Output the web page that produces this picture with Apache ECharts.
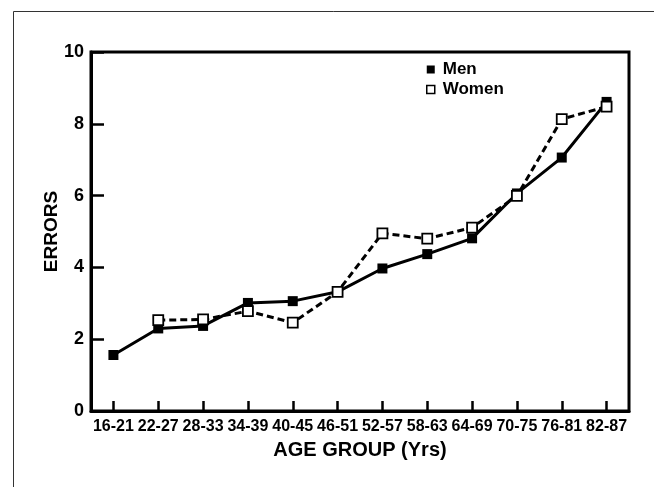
<!DOCTYPE html>
<html>
<head>
<meta charset="utf-8">
<script src="https://cdn.jsdelivr.net/npm/echarts@6/dist/echarts.min.js"></script>
<style>
html,body{margin:0;padding:0;background:#fff;}
#chart{width:654px;height:487px;}
</style>
</head>
<body>
<div id="chart"></div>
<script>
var categories = ['16-21','22-27','28-33','34-39','40-45','46-51','52-57','58-63','64-69','70-75','76-81','82-87'];
var menValues = [1.56, 2.30, 2.37, 3.01, 3.06, 3.32, 3.97, 4.37, 4.81, 6.06, 7.06, 8.61];
var womenValues = [null, 2.53, 2.55, 2.78, 2.46, 3.32, 4.95, 4.80, 5.11, 5.99, 8.13, 8.48];
var yTicks = [0, 2, 4, 6, 8, 10];

var FONT = '"Liberation Sans", Arial, Helvetica, sans-serif';
var NARROW = '"Liberation Sans Narrow", "Arial Narrow", "Liberation Sans", Arial, sans-serif';
var chart = echarts.init(document.getElementById('chart'), null, {renderer: 'canvas'});
chart.setOption({
  animation: false,
  backgroundColor: '#fff',
  textStyle: {fontFamily: FONT},
  graphic: [{
    type: 'polyline',
    shape: {points: [[13.5, 487], [13.5, 11.5], [654, 11.5]]},
    style: {stroke: '#333', lineWidth: 1, fill: null},
    silent: true
  }],
  grid: {
    left: 91, right: 25, top: 52, bottom: 76,
    show: true, borderColor: '#000', borderWidth: 3, backgroundColor: 'transparent'
  },
  legend: {
    orient: 'vertical',
    left: 421, top: 56,
    itemWidth: 8, itemHeight: 8, itemGap: 3,
    textStyle: {fontFamily: FONT, fontWeight: 'bold', fontSize: 17, color: '#000', padding: [0, 0, 0, 3]},
    data: [
      {name: 'Men', icon: 'rect', itemStyle: {color: '#000', borderWidth: 0}},
      {name: 'Women', icon: 'rect', itemStyle: {color: '#fff', borderColor: '#000', borderWidth: 1.5}}
    ]
  },
  xAxis: {
    type: 'category',
    data: categories,
    boundaryGap: true,
    name: 'AGE GROUP (Yrs)',
    nameLocation: 'middle',
    nameGap: 29,
    nameMoveOverlap: false,
    nameTextStyle: {fontFamily: FONT, fontWeight: 'bold', fontSize: 20, color: '#000'},
    axisLine: {show: true, lineStyle: {color: '#000', width: 3}},
    axisTick: {show: true, inside: true, alignWithLabel: true, length: 10, lineStyle: {color: '#000', width: 2.5}},
    axisLabel: {fontFamily: NARROW, fontWeight: 'bold', fontSize: 16, color: '#000', margin: 8, interval: 0},
    splitLine: {show: false}
  },
  yAxis: {
    type: 'value',
    min: 0, max: 10, interval: 2,
    name: 'ERRORS',
    nameLocation: 'middle',
    nameRotate: 90,
    nameGap: 30,
    nameMoveOverlap: false,
    nameTextStyle: {fontFamily: FONT, fontWeight: 'bold', fontSize: 19, color: '#000'},
    axisLine: {show: true, lineStyle: {color: '#000', width: 3}},
    axisTick: {show: true, inside: true, length: 13, lineStyle: {color: '#000', width: 2.5}},
    axisLabel: {fontFamily: FONT, fontWeight: 'bold', fontSize: 18, color: '#000', margin: 7,
      formatter: function (v) { return yTicks.indexOf(v) >= 0 ? String(v) : ''; }},
    splitLine: {show: false}
  },
  series: [
    {
      name: 'Men',
      type: 'line',
      data: menValues,
      symbol: 'rect',
      symbolSize: 10,
      z: 2,
      lineStyle: {color: '#000', width: 3, type: 'solid'},
      itemStyle: {color: '#000', borderColor: '#000', borderWidth: 0}
    },
    {
      name: 'Women',
      type: 'line',
      data: womenValues,
      connectNulls: false,
      symbol: 'rect',
      symbolSize: 10,
      z: 3,
      lineStyle: {color: '#000', width: 3, type: [7, 4]},
      itemStyle: {color: '#fff', borderColor: '#000', borderWidth: 1.8}
    }
  ]
});
</script>
</body>
</html>
